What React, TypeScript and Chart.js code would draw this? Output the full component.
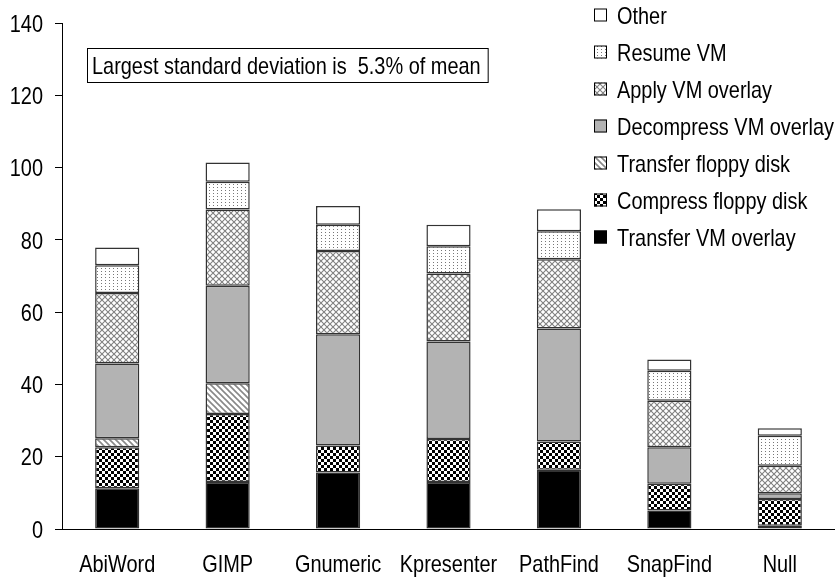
import React, { useEffect, useRef } from "react";
import { Chart, registerables } from "chart.js";

Chart.register(...registerables);

const categories = ["AbiWord", "GIMP", "Gnumeric", "Kpresenter", "PathFind", "SnapFind", "Null"];
const transferVmOverlay = [11.3, 13.0, 15.6, 13.0, 16.4, 5.1, 0.9];
const compressFloppyDisk = [11.3, 18.8, 7.5, 11.9, 7.8, 7.4, 7.4];
const transferFloppyDisk = [2.5, 8.5, 0, 0, 0, 0, 0];
const decompressVmOverlay = [20.7, 27.0, 30.8, 27.0, 31.3, 10.1, 1.6];
const applyVmOverlay = [19.5, 21.1, 23.0, 18.8, 19.1, 12.9, 7.6];
const resumeVm = [7.7, 7.7, 7.3, 7.5, 7.8, 8.3, 8.3];
const otherTime = [4.9, 5.3, 5.2, 6.0, 6.1, 3.1, 2.1];

const yTicks = [0, 20, 40, 60, 80, 100, 120, 140];
const seriesNames = [
  "Transfer VM overlay",
  "Compress floppy disk",
  "Transfer floppy disk",
  "Decompress VM overlay",
  "Apply VM overlay",
  "Resume VM",
  "Other",
];
const noteText = "Largest standard deviation is  5.3% of mean";

const FONT = '"Liberation Sans", Arial, sans-serif';
const SQUEEZE = 0.83;
const CAP = 8.7;

function makeTile(w: number, h: number, draw: (c: CanvasRenderingContext2D) => void): CanvasPattern | string {
  const cv = document.createElement("canvas");
  cv.width = w;
  cv.height = h;
  const c = cv.getContext("2d");
  if (!c) return "#fff";
  draw(c);
  const p = c.createPattern(cv, "repeat");
  return p || "#fff";
}

function buildFills(): (CanvasPattern | string)[] {
  const tvm = "#000000";
  const checker = makeTile(6, 6, (c) => {
    c.fillStyle = "#fff";
    c.fillRect(0, 0, 6, 6);
    c.fillStyle = "#000";
    c.fillRect(0, 0, 3, 3);
    c.fillRect(3, 3, 3, 3);
  });
  const stripes = makeTile(6, 6, (c) => {
    c.fillStyle = "#fff";
    c.fillRect(0, 0, 6, 6);
    c.strokeStyle = "#888";
    c.lineWidth = 1.6;
    c.beginPath();
    c.moveTo(-1, -1);
    c.lineTo(7, 7);
    c.moveTo(-4, 2);
    c.lineTo(2, 8);
    c.moveTo(2, -4);
    c.lineTo(8, 2);
    c.stroke();
  });
  const decompress = "#b3b3b3";
  const cross = makeTile(6, 6, (c) => {
    c.fillStyle = "#fff";
    c.fillRect(0, 0, 6, 6);
    c.strokeStyle = "#808080";
    c.lineWidth = 1.1;
    c.beginPath();
    c.moveTo(0, 0);
    c.lineTo(6, 6);
    c.moveTo(6, 0);
    c.lineTo(0, 6);
    c.stroke();
  });
  const dots = makeTile(4, 3, (c) => {
    c.fillStyle = "#fff";
    c.fillRect(0, 0, 4, 3);
    c.fillStyle = "#777";
    c.fillRect(1, 1, 1, 1);
  });
  const other = "#ffffff";
  return [tvm, checker, stripes, decompress, cross, dots, other];
}

function narrowText(
  ctx: CanvasRenderingContext2D,
  text: string,
  x: number,
  y: number,
  align: CanvasTextAlign
) {
  ctx.save();
  ctx.translate(x, y);
  ctx.scale(SQUEEZE, 1);
  ctx.textAlign = align;
  ctx.textBaseline = "alphabetic";
  ctx.fillText(text, 0, 0);
  ctx.restore();
}

export default function App() {
  const ref = useRef<HTMLCanvasElement | null>(null);

  useEffect(() => {
    const canvas = ref.current;
    if (!canvas) return;
    const fills = buildFills();
    const seriesValues = [
      transferVmOverlay,
      compressFloppyDisk,
      transferFloppyDisk,
      decompressVmOverlay,
      applyVmOverlay,
      resumeVm,
      otherTime,
    ];

    const overlayPlugin = {
      id: "overlay",
      afterDraw(chart: any) {
        const ctx: CanvasRenderingContext2D = chart.ctx;
        const xs = chart.scales.x;
        const ys = chart.scales.y;
        ctx.save();
        ctx.font = `24px ${FONT}`;
        ctx.fillStyle = "#000";

        // axis labels
        categories.forEach((cat, i) => {
          narrowText(ctx, cat, xs.getPixelForValue(i), 572, "center");
        });
        yTicks.forEach((v) => {
          narrowText(ctx, String(v), 43, ys.getPixelForValue(v) + CAP, "right");
        });

        // annotation box
        const tw = ctx.measureText(noteText).width * SQUEEZE;
        const bx = 87;
        const by = 48;
        const bw = tw + 12;
        const bh = 34;
        ctx.fillStyle = "#fff";
        ctx.fillRect(bx, by, bw, bh);
        ctx.strokeStyle = "#000";
        ctx.lineWidth = 1;
        ctx.strokeRect(bx + 0.5, by + 0.5, bw, bh);
        ctx.fillStyle = "#000";
        narrowText(ctx, noteText, bx + 5, by + bh / 2 + CAP, "left");

        // legend
        const rows = seriesNames.length;
        const top = 15;
        const step = 37;
        for (let i = 0; i < rows; i++) {
          const idx = rows - 1 - i;
          const cy = top + i * step;
          const sx = 594;
          const sz = 13;
          ctx.fillStyle = fills[idx] as any;
          ctx.fillRect(sx, cy - sz / 2, sz, sz);
          ctx.strokeStyle = "#000";
          ctx.lineWidth = 1;
          ctx.strokeRect(sx + 0.5, cy - sz / 2 + 0.5, sz - 1, sz - 1);
          ctx.fillStyle = "#000";
          narrowText(ctx, seriesNames[idx], 617, cy + CAP, "left");
        }
        ctx.restore();
      },
    };

    const chart = new Chart(canvas, {
      type: "bar",
      data: {
        labels: categories,
        datasets: seriesValues.map((vals, i) => ({
          label: seriesNames[i],
          data: vals.map((v) => (v === 0 ? null : v)),
          backgroundColor: fills[i] as any,
          borderColor: "#333333",
          borderWidth: 1.5,
          borderSkipped: false,
          barPercentage: 0.4,
          categoryPercentage: 1,
        })),
      },
      options: {
        animation: false,
        responsive: false,
        maintainAspectRatio: false,
        devicePixelRatio: 1,
        layout: { padding: { top: 23, right: 0, bottom: 0, left: 0 } },
        plugins: {
          legend: { display: false },
          tooltip: { enabled: false },
        },
        scales: {
          x: {
            stacked: true,
            grid: { display: false, drawTicks: false },
            border: { display: true, color: "#000", width: 1 },
            ticks: { display: false },
            afterFit(axis: any) {
              axis.height = 52;
            },
          },
          y: {
            stacked: true,
            min: 0,
            max: 140,
            afterBuildTicks(axis: any) {
              axis.ticks = yTicks.map((v) => ({ value: v }));
            },
            grid: {
              display: true,
              drawOnChartArea: false,
              drawTicks: true,
              tickLength: 7,
              color: "#000",
            },
            border: { display: true, color: "#000", width: 1 },
            ticks: { display: false },
            afterFit(axis: any) {
              axis.width = 62;
            },
          },
        },
      },
      plugins: [overlayPlugin],
    });

    return () => {
      chart.destroy();
    };
  }, []);

  return (
    <div style={{ position: "fixed", left: 0, top: 0, width: 835, height: 581, background: "#fff" }}>
      <canvas ref={ref} width={835} height={581} style={{ width: 835, height: 581, display: "block" }} />
    </div>
  );
}
